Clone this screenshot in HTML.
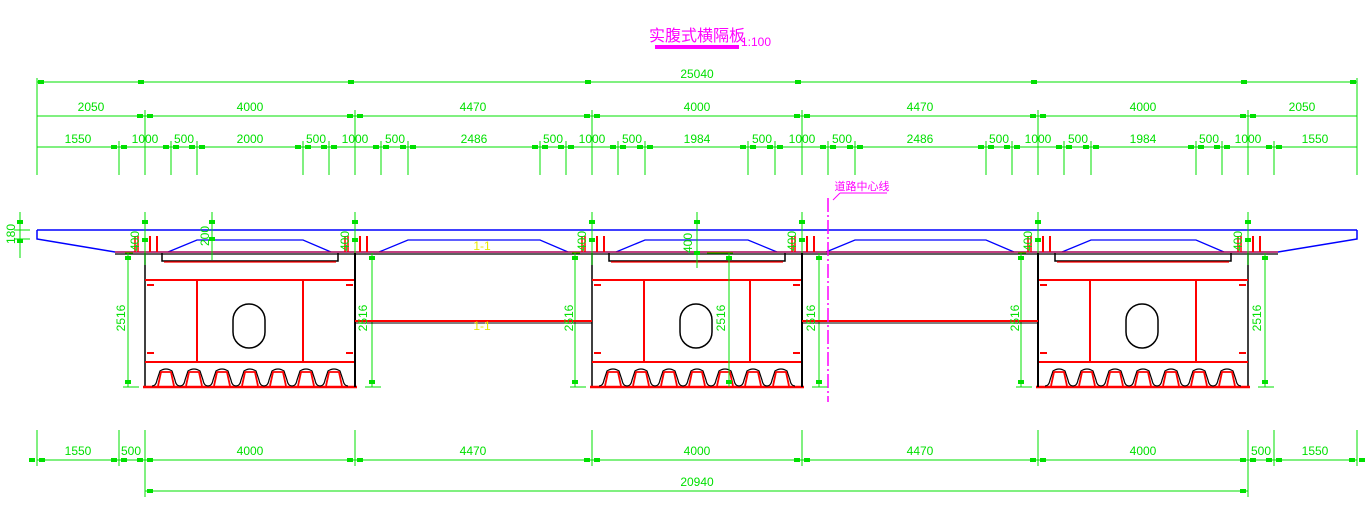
<!DOCTYPE html>
<html><head><meta charset="utf-8"><style>
html,body{margin:0;padding:0;background:#fff;}
svg{display:block;}
text{font-family:"Liberation Sans","Noto Sans CJK SC",sans-serif;}
.d{fill:#00e000;font-size:12px;text-anchor:middle;}
</style></head><body>
<svg id="s" width="1367" height="514" viewBox="0 0 1367 514" xmlns="http://www.w3.org/2000/svg">
<g id="g"></g>
<!-- title -->
<text x="697" y="41" font-size="16" fill="#ff00ff" text-anchor="middle" font-family="Noto Sans CJK SC,sans-serif">实腹式横隔板</text>
<rect x="655" y="45" width="84" height="4" fill="#ff00ff"/>
<text x="741" y="46" font-size="12" fill="#ff00ff">1:100</text>
<text x="862" y="190" font-size="11" fill="#ff00ff" text-anchor="middle" font-family="Noto Sans CJK SC,sans-serif">道路中心线</text>
<line x1="840" y1="193" x2="887" y2="193" stroke="#ff00ff"/>
<line x1="840" y1="193" x2="833" y2="200" stroke="#ff00ff"/>
<text class="d" x="697" y="78">25040</text>
<text class="d" x="91" y="111">2050</text>
<text class="d" x="250" y="111">4000</text>
<text class="d" x="473" y="111">4470</text>
<text class="d" x="697" y="111">4000</text>
<text class="d" x="920" y="111">4470</text>
<text class="d" x="1143" y="111">4000</text>
<text class="d" x="1302" y="111">2050</text>
<text class="d" x="78" y="143">1550</text>
<text class="d" x="145" y="143">1000</text>
<text class="d" x="184" y="143">500</text>
<text class="d" x="250" y="143">2000</text>
<text class="d" x="316" y="143">500</text>
<text class="d" x="355" y="143">1000</text>
<text class="d" x="395" y="143">500</text>
<text class="d" x="474" y="143">2486</text>
<text class="d" x="553" y="143">500</text>
<text class="d" x="592" y="143">1000</text>
<text class="d" x="632" y="143">500</text>
<text class="d" x="697" y="143">1984</text>
<text class="d" x="762" y="143">500</text>
<text class="d" x="802" y="143">1000</text>
<text class="d" x="842" y="143">500</text>
<text class="d" x="920" y="143">2486</text>
<text class="d" x="999" y="143">500</text>
<text class="d" x="1038" y="143">1000</text>
<text class="d" x="1078" y="143">500</text>
<text class="d" x="1143" y="143">1984</text>
<text class="d" x="1209" y="143">500</text>
<text class="d" x="1248" y="143">1000</text>
<text class="d" x="1315" y="143">1550</text>
<text class="d" x="78" y="455">1550</text>
<text class="d" x="131" y="455">500</text>
<text class="d" x="250" y="455">4000</text>
<text class="d" x="473" y="455">4470</text>
<text class="d" x="697" y="455">4000</text>
<text class="d" x="920" y="455">4470</text>
<text class="d" x="1143" y="455">4000</text>
<text class="d" x="1261" y="455">500</text>
<text class="d" x="1315" y="455">1550</text>
<text class="d" x="697" y="486">20940</text>
<text class="d" transform="translate(15,234) rotate(-90)" font-size="13">180</text>
<text class="d" transform="translate(209,236) rotate(-90)" font-size="13">200</text>
<text class="d" transform="translate(692,243) rotate(-90)" font-size="13">400</text>
<text class="d" transform="translate(139,241) rotate(-90)" font-size="11">400</text>
<text class="d" transform="translate(349,241) rotate(-90)" font-size="11">400</text>
<text class="d" transform="translate(586,241) rotate(-90)" font-size="11">400</text>
<text class="d" transform="translate(796,241) rotate(-90)" font-size="11">400</text>
<text class="d" transform="translate(1032,241) rotate(-90)" font-size="11">400</text>
<text class="d" transform="translate(1242,241) rotate(-90)" font-size="11">400</text>
<text class="d" transform="translate(125,318) rotate(-90)" font-size="15">2516</text>
<text class="d" transform="translate(367,318) rotate(-90)" font-size="15">2516</text>
<text class="d" transform="translate(573,318) rotate(-90)" font-size="15">2516</text>
<text class="d" transform="translate(725,318) rotate(-90)" font-size="15">2516</text>
<text class="d" transform="translate(815,318) rotate(-90)" font-size="15">2516</text>
<text class="d" transform="translate(1019,318) rotate(-90)" font-size="15">2516</text>
<text class="d" transform="translate(1261,318) rotate(-90)" font-size="15">2516</text>
<text x="482" y="250" font-size="12" fill="#e8e800" text-anchor="middle">1-1</text>
<text x="482" y="330" font-size="12" fill="#e8e800" text-anchor="middle">1-1</text>
</svg>
<script>
var g=document.getElementById('g'),o='';
function L(x1,y1,x2,y2,c,w){o+='<line x1="'+x1+'" y1="'+y1+'" x2="'+x2+'" y2="'+y2+'" stroke="'+c+'" stroke-width="'+(w||1)+'"/>';}
function P(d,c,w){o+='<path d="'+d+'" fill="none" stroke="'+c+'" stroke-width="'+(w||1)+'"/>';}
function T(x,y){o+='<rect x="'+(x-3)+'" y="'+(y-2)+'" width="6" height="4" fill="#00e000"/>';}
var G='#00e000',R='#ff0000',B='#0000ff',K='#000';
L(37,82,1357,82,G);L(37,116,1357,116,G);L(37,147,1357,147,G);
[37,1357].forEach(function(x){L(x,78,x,175,G);});
[145,355,592,802,1038,1248].forEach(function(x){L(x,110,x,175,G);T(x-5,116);T(x+5,116);});
[119,171,197,303,329,381,408,540,566,618,645,748,775,828,855,986,1012,1064,1091,1196,1222,1274].forEach(function(x){L(x,141,x,175,G);T(x-5,147);T(x+5,147);});
[37,145,355,592,802,1038,1248,1357].forEach(function(x){T(x+(x==37?4:-4),82);});
L(37,460,1357,460,G);L(145,491,1248,491,G);
[37,119,145,355,592,802,1038,1248,1274,1357].forEach(function(x){L(x,430,x,466,G);T(x-5,460);T(x+5,460);});
[145,1248].forEach(function(x){L(x,466,x,497,G);T(x+(x==145?5:-5),491);});
L(37,230,1357,230,B,1.5);
P('M37,230 L37,239 L115,252 L1278,252 L1357,239 L1357,230',B,1.5);
var h=[[170,197,303,329],[381,408,540,566],[618,645,748,775],[828,855,986,1012],[1064,1091,1196,1222]];
h.forEach(function(a){P('M'+(a[0]-2)+',252 L'+a[1]+',240 L'+a[2]+',240 L'+(a[3]+2)+',252',B,1.3);});
L(115,254,1278,254,K,1.3);
L(115,252,1278,252,R,1);
[145,592,1038].forEach(function(x){
 L(x,253,x,387,K,1.5);L(x+210,253,x+210,387,K,1.5);
 P('M'+(x+17)+',253 L'+(x+17)+',261 L'+(x+193)+',261 L'+(x+193)+',253',K,1.5);
 L(x+19,262,x+191,262,R,1.2);
 L(x,362,x+210,362,R,2);L(x-2,387,x+212,387,R,2.5);
 L(x,280,x+210,280,R,2);
 L(x+52,280,x+52,362,R,2);L(x+158,280,x+158,362,R,2);
 L(x+2,285,x+9,285,R,2);L(x+2,353,x+9,353,R,2);L(x+201,285,x+208,285,R,2);L(x+201,353,x+208,353,R,2);
 o+='<rect x="'+(x+88)+'" y="304" width="32" height="44" rx="16" fill="none" stroke="#000" stroke-width="1.5"/>';
 for(var i=0;i<7;i++){var c=x+21+i*28;P('M'+(c-14)+',386 Q'+(c-10)+',386 '+(c-9)+',380 L'+(c-6)+',371 Q'+c+',367 '+(c+6)+',371 L'+(c+9)+',380 Q'+(c+10)+',386 '+(c+14)+',386',K,1.2);P('M'+(c-8)+',386 L'+(c-5)+',372 L'+(c+5)+',372 L'+(c+8)+',386',R,1.8);}
 [x-10,x+200].forEach(function(s){L(s,236,s,252,R,1.5);L(s+3,236,s+3,252,R,1.5);L(s+15,236,s+15,252,R,2);L(s+22,236,s+22,252,R,2);});
 [x,x+210].forEach(function(v){L(v,212,v,265,G);T(v,222);T(v,240);});
 L(x-20,253,x-12,253,G);
 L(x-17,253,x-17,387,G);T(x-17,258);T(x-17,382);L(x-22,387,x-6,387,G);
 L(x+227,253,x+227,387,G);T(x+227,258);T(x+227,382);L(x+220,387,x+236,387,G);
});
L(355,253,355,387,K,2);L(802,253,802,387,K,2);L(1038,253,1038,387,K,2);
L(355,321,592,321,R,2);L(802,321,1038,321,R,2);L(355,323,592,323,K,1);L(802,323,1038,323,K,1);
L(707,253,733,253,G);L(729,253,729,387,G);T(729,258);T(729,382);
L(20,212,20,258,G);T(20,222);T(20,241);L(14,230,30,230,G);L(14,239,30,239,G);
L(212,212,212,260,G);T(212,222);T(212,239);
L(697,212,697,268,G);T(697,222);T(697,253);
o+='<line x1="828" y1="198" x2="828" y2="402" stroke="#ff00ff" stroke-width="1.5" stroke-dasharray="14,3,2,3"/>';
g.innerHTML=o;
</script>
</body></html>
